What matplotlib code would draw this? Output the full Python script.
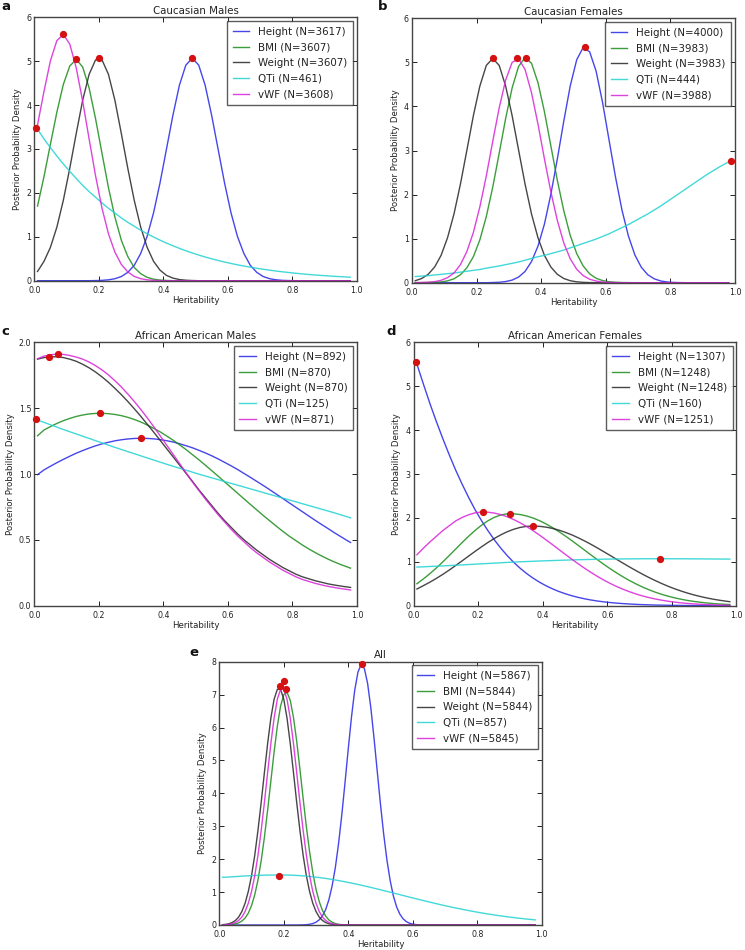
import numpy as np
import matplotlib
matplotlib.use("Agg")
import matplotlib.pyplot as plt

# ---------------- data ----------------
heritability = [0.01, 0.03, 0.05, 0.07, 0.09, 0.11, 0.13, 0.15, 0.17, 0.19,
                0.21, 0.23, 0.25, 0.27, 0.29, 0.31, 0.33, 0.35, 0.37, 0.39,
                0.41, 0.43, 0.45, 0.47, 0.49, 0.51, 0.53, 0.55, 0.57, 0.59,
                0.61, 0.63, 0.65, 0.67, 0.69, 0.71, 0.73, 0.75, 0.77, 0.79,
                0.81, 0.83, 0.85, 0.87, 0.89, 0.91, 0.93, 0.95, 0.97, 0.98]
# finer grid (0.01 ... 0.98) used for the narrow curves of panel e
heritability_fine = list(np.round(np.arange(1, 99) * 0.01, 2))

traits = ["Height", "BMI", "Weight", "QTi", "vWF"]

# (a) Caucasian Males
cm_height = [0, 0, 0, 0, 0, 0, 0, 0, 0, 0.003,
             0.008, 0.02, 0.045, 0.095, 0.19, 0.35, 0.62, 1.01, 1.55, 2.23,
             3.00, 3.77, 4.45, 4.91, 5.07, 4.91, 4.45, 3.77, 3.00, 2.23,
             1.55, 1.01, 0.62, 0.35, 0.19, 0.095, 0.045, 0.02, 0.008, 0.003,
             0, 0, 0, 0, 0, 0, 0, 0, 0, 0]
cm_bmi = [1.70, 2.37, 3.11, 3.84, 4.47, 4.89, 5.04, 4.87, 4.39, 3.69,
          2.90, 2.12, 1.45, 0.92, 0.55, 0.30, 0.16, 0.076, 0.034, 0.014,
          0.006, 0, 0, 0, 0, 0, 0, 0, 0, 0,
          0, 0, 0, 0, 0, 0, 0, 0, 0, 0,
          0, 0, 0, 0, 0, 0, 0, 0, 0, 0]
cm_weight = [0.21, 0.44, 0.76, 1.22, 1.83, 2.56, 3.35, 4.11, 4.70, 5.03,
             5.03, 4.70, 4.11, 3.35, 2.56, 1.83, 1.22, 0.76, 0.44, 0.24,
             0.12, 0.059, 0.026, 0.011, 0.004, 0, 0, 0, 0, 0,
             0, 0, 0, 0, 0, 0, 0, 0, 0, 0,
             0, 0, 0, 0, 0, 0, 0, 0, 0, 0]
cm_qti = [3.45, 3.23, 3.03, 2.84, 2.66, 2.49, 2.33, 2.17, 2.03, 1.90,
          1.77, 1.65, 1.54, 1.43, 1.33, 1.24, 1.15, 1.07, 0.995, 0.924,
          0.857, 0.795, 0.737, 0.682, 0.632, 0.585, 0.540, 0.500, 0.461, 0.426,
          0.393, 0.362, 0.334, 0.308, 0.283, 0.261, 0.240, 0.220, 0.202, 0.186,
          0.170, 0.156, 0.143, 0.131, 0.120, 0.110, 0.100, 0.092, 0.084, 0.080]
cm_vwf = [3.55, 4.31, 5.01, 5.47, 5.61, 5.39, 4.85, 4.09, 3.23, 2.39,
          1.65, 1.07, 0.65, 0.37, 0.20, 0.098, 0.046, 0.02, 0.008, 0.003,
          0, 0, 0, 0, 0, 0, 0, 0, 0, 0,
          0, 0, 0, 0, 0, 0, 0, 0, 0, 0,
          0, 0, 0, 0, 0, 0, 0, 0, 0, 0]
cm_n = [3617, 3607, 3607, 461, 3608]
cm_peak_x = [0.49, 0.13, 0.20, 0.006, 0.088]
cm_peak_y = [5.07, 5.04, 5.07, 3.47, 5.61]

# (b) Caucasian Females
cf_height = [0, 0, 0, 0, 0, 0, 0, 0, 0, 0,
             0, 0, 0.004, 0.01, 0.026, 0.059, 0.128, 0.255, 0.48, 0.83,
             1.33, 2.01, 2.81, 3.67, 4.47, 5.06, 5.34, 5.24, 4.80, 4.09,
             3.24, 2.40, 1.65, 1.06, 0.63, 0.35, 0.18, 0.088, 0.039, 0.016,
             0.006, 0.002, 0, 0, 0, 0, 0, 0, 0, 0]
cf_bmi = [0.002, 0.003, 0.005, 0.008, 0.018, 0.041, 0.089, 0.18, 0.34, 0.59,
          0.97, 1.50, 2.17, 2.94, 3.73, 4.42, 4.91, 5.11, 4.98, 4.54,
          3.88, 3.10, 2.32, 1.63, 1.07, 0.66, 0.38, 0.20, 0.10, 0.049,
          0.021, 0.009, 0.004, 0.002, 0, 0, 0, 0, 0, 0,
          0, 0, 0, 0, 0, 0, 0, 0, 0, 0]
cf_weight = [0.045, 0.095, 0.19, 0.355, 0.62, 1.02, 1.56, 2.24, 3.01, 3.79,
             4.46, 4.93, 5.09, 4.93, 4.46, 3.79, 3.01, 2.24, 1.56, 1.02,
             0.62, 0.355, 0.19, 0.095, 0.045, 0.02, 0.008, 0.003, 0, 0,
             0, 0, 0, 0, 0, 0, 0, 0, 0, 0,
             0, 0, 0, 0, 0, 0, 0, 0, 0, 0]
cf_qti = [0.14, 0.15, 0.16, 0.175, 0.19, 0.205, 0.22, 0.24, 0.26, 0.28,
          0.30, 0.33, 0.355, 0.38, 0.41, 0.44, 0.47, 0.51, 0.55, 0.59,
          0.62, 0.66, 0.70, 0.74, 0.79, 0.84, 0.89, 0.94, 0.99, 1.05,
          1.11, 1.18, 1.25, 1.32, 1.40, 1.48, 1.56, 1.65, 1.74, 1.84,
          1.94, 2.04, 2.14, 2.24, 2.34, 2.44, 2.53, 2.62, 2.70, 2.74]
cf_vwf = [0.0015, 0.004, 0.01, 0.024, 0.054, 0.114, 0.22, 0.41, 0.71, 1.14,
          1.72, 2.42, 3.21, 3.97, 4.60, 5.00, 5.08, 4.84, 4.31, 3.60,
          2.81, 2.06, 1.41, 0.90, 0.54, 0.305, 0.16, 0.079, 0.037, 0.016,
          0.007, 0.003, 0, 0, 0, 0, 0, 0, 0, 0,
          0, 0, 0, 0, 0, 0, 0, 0, 0, 0]
cf_n = [4000, 3983, 3983, 444, 3988]
cf_peak_x = [0.535, 0.352, 0.25, 0.987, 0.325]
cf_peak_y = [5.35, 5.11, 5.09, 2.76, 5.09]

# (c) African American Males
am_height = [0.995, 1.031, 1.059, 1.086, 1.111, 1.135, 1.158, 1.178, 1.197, 1.214,
             1.229, 1.241, 1.252, 1.260, 1.266, 1.270, 1.271, 1.270, 1.267, 1.261,
             1.253, 1.243, 1.230, 1.215, 1.199, 1.180, 1.160, 1.138, 1.114, 1.088,
             1.062, 1.034, 1.004, 0.974, 0.943, 0.912, 0.880, 0.847, 0.814, 0.781,
             0.748, 0.715, 0.682, 0.649, 0.617, 0.586, 0.554, 0.524, 0.494, 0.480]
am_bmi = [1.29, 1.334, 1.360, 1.384, 1.405, 1.422, 1.437, 1.448, 1.456, 1.460,
          1.461, 1.458, 1.452, 1.443, 1.430, 1.414, 1.395, 1.372, 1.347, 1.320,
          1.289, 1.257, 1.222, 1.186, 1.147, 1.108, 1.067, 1.025, 0.983, 0.940,
          0.897, 0.854, 0.811, 0.768, 0.726, 0.684, 0.644, 0.604, 0.565, 0.528,
          0.495, 0.462, 0.432, 0.404, 0.378, 0.354, 0.332, 0.312, 0.294, 0.285]
am_weight = [1.872, 1.884, 1.89, 1.89, 1.884, 1.872, 1.856, 1.833, 1.806, 1.774,
             1.737, 1.696, 1.650, 1.602, 1.550, 1.495, 1.438, 1.378, 1.318, 1.256,
             1.193, 1.131, 1.068, 1.006, 0.944, 0.88, 0.82, 0.76, 0.70, 0.645,
             0.595, 0.545, 0.50, 0.46, 0.42, 0.385, 0.35, 0.32, 0.29, 0.265,
             0.24, 0.22, 0.205, 0.19, 0.178, 0.166, 0.157, 0.149, 0.142, 0.139]
am_qti = [1.41, 1.392, 1.374, 1.356, 1.338, 1.321, 1.304, 1.287, 1.27, 1.253,
          1.236, 1.219, 1.202, 1.186, 1.17, 1.154, 1.138, 1.122, 1.106, 1.09,
          1.074, 1.059, 1.044, 1.029, 1.014, 0.999, 0.985, 0.971, 0.957, 0.943,
          0.929, 0.915, 0.901, 0.887, 0.873, 0.859, 0.845, 0.831, 0.817, 0.803,
          0.789, 0.775, 0.761, 0.747, 0.733, 0.719, 0.705, 0.69, 0.675, 0.667]
am_vwf = [1.875, 1.895, 1.905, 1.911, 1.908, 1.90, 1.888, 1.872, 1.85, 1.822,
          1.79, 1.752, 1.708, 1.66, 1.607, 1.55, 1.49, 1.426, 1.36, 1.29,
          1.22, 1.15, 1.08, 1.01, 0.94, 0.875, 0.81, 0.75, 0.69, 0.635,
          0.58, 0.53, 0.485, 0.44, 0.40, 0.365, 0.33, 0.30, 0.27, 0.245,
          0.22, 0.20, 0.185, 0.17, 0.158, 0.147, 0.138, 0.13, 0.123, 0.119]
am_n = [892, 870, 870, 125, 871]
am_peak_x = [0.331, 0.205, 0.046, 0.006, 0.072]
am_peak_y = [1.271, 1.461, 1.891, 1.42, 1.911]

# (d) African American Females
af_height = [5.50, 5.05, 4.61, 4.20, 3.81, 3.44, 3.09, 2.77, 2.47, 2.19,
             1.94, 1.71, 1.50, 1.31, 1.14, 0.988, 0.853, 0.733, 0.628, 0.535,
             0.455, 0.385, 0.324, 0.272, 0.227, 0.189, 0.157, 0.129, 0.106, 0.087,
             0.071, 0.058, 0.047, 0.038, 0.030, 0.024, 0.019, 0.015, 0.012, 0.0095,
             0.0074, 0.0057, 0.0044, 0.0034, 0.0026, 0.002, 0.0015, 0.0011, 0.0008, 0.0007]
af_bmi = [0.50, 0.61, 0.729, 0.858, 0.996, 1.141, 1.289, 1.437, 1.580, 1.713,
          1.833, 1.934, 2.013, 2.067, 2.093, 2.093, 2.077, 2.044, 1.997, 1.937,
          1.864, 1.780, 1.688, 1.588, 1.483, 1.374, 1.264, 1.153, 1.045, 0.939,
          0.838, 0.742, 0.652, 0.569, 0.493, 0.423, 0.361, 0.305, 0.256, 0.214,
          0.177, 0.145, 0.118, 0.096, 0.077, 0.061, 0.048, 0.038, 0.030, 0.026]
af_weight = [0.38, 0.457, 0.535, 0.621, 0.713, 0.811, 0.915, 1.021, 1.129, 1.236,
             1.340, 1.440, 1.532, 1.614, 1.685, 1.741, 1.783, 1.807, 1.815, 1.808,
             1.790, 1.761, 1.722, 1.672, 1.614, 1.547, 1.474, 1.396, 1.313, 1.227,
             1.140, 1.052, 0.964, 0.878, 0.795, 0.715, 0.639, 0.568, 0.501, 0.439,
             0.382, 0.331, 0.285, 0.243, 0.207, 0.174, 0.146, 0.122, 0.101, 0.091]
af_qti = [0.880, 0.886, 0.893, 0.900, 0.907, 0.914, 0.922, 0.930, 0.938, 0.946,
          0.954, 0.962, 0.970, 0.978, 0.986, 0.993, 1.000, 1.006, 1.012, 1.018,
          1.023, 1.028, 1.033, 1.038, 1.043, 1.047, 1.051, 1.054, 1.057, 1.060,
          1.062, 1.064, 1.066, 1.067, 1.068, 1.069, 1.070, 1.070, 1.070, 1.070,
          1.069, 1.069, 1.068, 1.067, 1.066, 1.065, 1.064, 1.063, 1.062, 1.061]
af_vwf = [1.16, 1.31, 1.45, 1.58, 1.71, 1.82, 1.93, 2.01, 2.07, 2.115,
          2.134, 2.13, 2.11, 2.075, 2.026, 1.963, 1.888, 1.803, 1.709, 1.608,
          1.501, 1.392, 1.280, 1.169, 1.060, 0.954, 0.852, 0.756, 0.665, 0.581,
          0.504, 0.434, 0.371, 0.315, 0.265, 0.221, 0.184, 0.151, 0.124, 0.100,
          0.081, 0.064, 0.051, 0.040, 0.032, 0.025, 0.019, 0.014, 0.011, 0.0095]
af_n = [1307, 1248, 1248, 160, 1251]
af_peak_x = [0.008, 0.299, 0.369, 0.762, 0.215]
af_peak_y = [5.54, 2.096, 1.815, 1.071, 2.134]

# (e) All  -- narrow curves on the fine grid (0.01 steps), QTi on the coarse grid
all_height = ([0.0] * 24 +
              [0.002, 0.0045, 0.010, 0.021, 0.044, 0.085, 0.157, 0.28, 0.47, 0.77,
               1.19, 1.75, 2.48, 3.35, 4.33, 5.35, 6.32, 7.13, 7.68, 7.92,
               7.79, 7.34, 6.60, 5.67, 4.66, 3.66, 2.75, 1.97, 1.35, 0.88,
               0.55, 0.33, 0.19, 0.104, 0.054, 0.027, 0.013, 0.006, 0.0025, 0.001] +
              [0.0] * 34)
all_bmi = ([0.0015, 0.0035, 0.008, 0.017, 0.034, 0.065, 0.12, 0.21, 0.36, 0.59,
            0.92, 1.37, 1.96, 2.67, 3.50, 4.38, 5.26, 6.04, 6.65, 7.00,
            7.07, 6.83, 6.31, 5.59, 4.74, 3.85, 2.99, 2.23, 1.59, 1.08,
            0.71, 0.44, 0.27, 0.152, 0.084, 0.044, 0.022, 0.011, 0.005, 0.0023,
            0.001] + [0.0] * 57)
all_weight = ([0.009, 0.019, 0.039, 0.075, 0.138, 0.24, 0.41, 0.66, 1.02, 1.50,
               2.12, 2.88, 3.73, 4.64, 5.52, 6.29, 6.86, 7.16, 7.16, 6.86,
               6.29, 5.52, 4.64, 3.73, 2.88, 2.12, 1.50, 1.02, 0.66, 0.41,
               0.24, 0.138, 0.075, 0.039, 0.019, 0.009, 0.004, 0.002, 0.001] +
              [0.0] * 59)
all_qti = [1.45, 1.457, 1.471, 1.484, 1.495, 1.504, 1.511, 1.516, 1.519, 1.520,
           1.518, 1.511, 1.500, 1.485, 1.465, 1.442, 1.415, 1.384, 1.350, 1.313,
           1.274, 1.232, 1.187, 1.142, 1.094, 1.046, 0.997, 0.947, 0.897, 0.847,
           0.798, 0.750, 0.702, 0.655, 0.610, 0.566, 0.524, 0.484, 0.445, 0.408,
           0.373, 0.340, 0.310, 0.281, 0.254, 0.229, 0.206, 0.184, 0.165, 0.155]
all_vwf = ([0.004, 0.009, 0.019, 0.039, 0.075, 0.138, 0.24, 0.41, 0.66, 1.02,
            1.50, 2.12, 2.88, 3.73, 4.64, 5.52, 6.29, 6.86, 7.16, 7.16,
            6.86, 6.29, 5.52, 4.64, 3.73, 2.88, 2.12, 1.50, 1.02, 0.66,
            0.41, 0.24, 0.138, 0.075, 0.039, 0.019, 0.009, 0.004, 0.002, 0.001] +
           [0.0] * 58)
all_n = [5867, 5844, 5844, 857, 5845]
all_peak_x = [0.442, 0.207, 0.188, 0.185, 0.2017]
all_peak_y = [7.92, 7.17, 7.25, 1.50, 7.42]

# ---------------- figure ----------------
W, H = 745, 950
fig = plt.figure(figsize=(W / 100, H / 100), dpi=100)
fig.patch.set_facecolor("white")

line_colors = ["#2525e8", "#1a8c1a", "#262626", "#22d2d2", "#d822d8"]


def px_rect(left, top, right, bottom):
    return [left / W, 1 - bottom / H, (right - left) / W, (bottom - top) / H]


H5 = [heritability] * 5
panels = [
    dict(letter="a", title="Caucasian Males", rect=px_rect(34.3, 17.3, 356.7, 280.7),
         xs=H5, series=[cm_height, cm_bmi, cm_weight, cm_qti, cm_vwf], n=cm_n,
         px=cm_peak_x, py=cm_peak_y, ymax=6, yticks=[0, 1, 2, 3, 4, 5, 6], yfmt="{:.0f}",
         letter_xy=(1, 13)),
    dict(letter="b", title="Caucasian Females", rect=px_rect(412, 18.3, 735, 282.7),
         xs=H5, series=[cf_height, cf_bmi, cf_weight, cf_qti, cf_vwf], n=cf_n,
         px=cf_peak_x, py=cf_peak_y, ymax=6, yticks=[0, 1, 2, 3, 4, 5, 6], yfmt="{:.0f}",
         letter_xy=(378, 13)),
    dict(letter="c", title="African American Males", rect=px_rect(34.3, 342.3, 357, 605.7),
         xs=H5, series=[am_height, am_bmi, am_weight, am_qti, am_vwf], n=am_n,
         px=am_peak_x, py=am_peak_y, ymax=2, yticks=[0, 0.5, 1.0, 1.5, 2.0], yfmt="{:.1f}",
         letter_xy=(1, 338)),
    dict(letter="d", title="African American Females", rect=px_rect(413.7, 342.3, 736.3, 605.7),
         xs=H5, series=[af_height, af_bmi, af_weight, af_qti, af_vwf], n=af_n,
         px=af_peak_x, py=af_peak_y, ymax=6, yticks=[0, 1, 2, 3, 4, 5, 6], yfmt="{:.0f}",
         letter_xy=(386, 338)),
    dict(letter="e", title="All", rect=px_rect(219.3, 661.7, 541.7, 925),
         xs=[heritability_fine, heritability_fine, heritability_fine, heritability,
             heritability_fine],
         series=[all_height, all_bmi, all_weight, all_qti, all_vwf], n=all_n,
         px=all_peak_x, py=all_peak_y, ymax=8, yticks=[0, 1, 2, 3, 4, 5, 6, 7, 8], yfmt="{:.0f}",
         letter_xy=(189, 659)),
]

for p in panels:
    ax = fig.add_axes(p["rect"])
    for xv, vals, name, n, col in zip(p["xs"], p["series"], traits, p["n"], line_colors):
        ax.plot(xv, vals, color=col, lw=1.0, alpha=0.85, label=f"{name} (N={n})")
    ax.plot(p["px"], p["py"], "o", color="#d41010", mec="#d41010", ms=4.2,
            clip_on=False, zorder=5)
    ax.set_xlim(0, 1)
    ax.set_ylim(0, p["ymax"])
    ax.set_xticks([0, 0.2, 0.4, 0.6, 0.8, 1.0])
    ax.set_xticklabels(["0.0", "0.2", "0.4", "0.6", "0.8", "1.0"])
    ax.set_yticks(p["yticks"])
    ax.set_yticklabels([p["yfmt"].format(v) for v in p["yticks"]])
    ax.tick_params(direction="in", top=True, right=True, length=3.5, width=0.7,
                   labelsize=5.7, colors="#222222")
    ax.tick_params(axis="x", pad=3.6)
    ax.tick_params(axis="y", pad=2.2)
    for s in ax.spines.values():
        s.set_linewidth(1.0)
        s.set_color("#444444")
    ax.set_title(p["title"], fontsize=7.4, pad=2.5, color="#222222")
    ax.set_xlabel("Heritability", fontsize=6.2, labelpad=1.0, color="#222222")
    ax.set_ylabel("Posterior Probability Density", fontsize=6.2, labelpad=3,
                  color="#222222")
    leg = ax.legend(loc="upper right", fontsize=7.4, frameon=True, fancybox=False,
                    borderaxespad=0.35, borderpad=0.55, labelspacing=0.55,
                    handlelength=1.6, handletextpad=0.9)
    leg.get_frame().set_edgecolor("#333333")
    leg.get_frame().set_linewidth(1.0)
    for t in leg.get_texts():
        t.set_color("#222222")
    lx, ly = p["letter_xy"]
    fig.text(lx / W, 1 - ly / H, p["letter"], fontsize=9.5, fontweight="bold",
             ha="left", va="bottom", color="#111111")

fig.savefig("out.png", dpi=100, facecolor="white")
